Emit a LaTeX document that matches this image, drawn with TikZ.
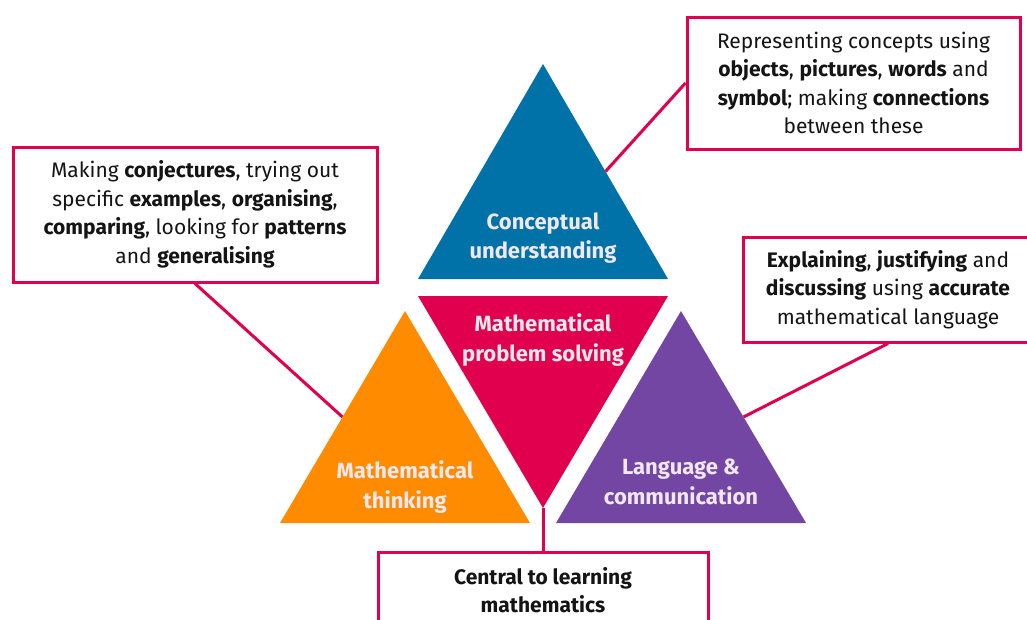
\documentclass[tikz,border=0pt]{standalone}
\usepackage{fontspec}
\setmainfont{Fira Sans}
\usetikzlibrary{calc}

\definecolor{cuBlue}{RGB}{0,114,168}
\definecolor{psRed}{RGB}{224,0,77}
\definecolor{mtOrange}{RGB}{255,140,0}
\definecolor{lcPurple}{RGB}{115,70,163}
\definecolor{edgePink}{RGB}{226,0,78}
\definecolor{inkDark}{RGB}{20,20,20}
\definecolor{labelLight}{RGB}{240,232,238}

\newcommand\notefont{\fontsize{21}{28.5}\selectfont}
\newcommand\trifont{\fontsize{22}{29.5}\selectfont\bfseries}

\begin{document}
\begin{tikzpicture}[x=1pt,y=-1pt,
  note/.style={draw=edgePink, line width=3pt, fill=white, align=center,
    inner sep=0pt, font=\notefont, text=inkDark},
  link/.style={draw=edgePink, line width=3pt},
  trilabel/.style={align=center, font=\trifont, text=labelLight, inner sep=0pt}
]
\useasboundingbox (0,0) rectangle (1027,619);

% triangle corners
\coordinate (bTop) at (543,64);   \coordinate (bL) at (418,279); \coordinate (bR) at (668,279);
\coordinate (rL) at (418,296);    \coordinate (rR) at (668,296); \coordinate (rTip) at (543,508);
\coordinate (oTop) at (405,311);  \coordinate (oL) at (280,523); \coordinate (oR) at (530,523);
\coordinate (pTop) at (681,311);  \coordinate (pL) at (556,523); \coordinate (pR) at (806,523);

% connector ends on the triangle sides
\coordinate (bSide) at ($(bTop)!0.5!(bR)$);
\coordinate (oSide) at ($(oTop)!0.5!(oL)$);
\coordinate (pSide) at ($(pTop)!0.5!(pR)$);

% text boxes
\node[note, minimum width=333pt, minimum height=132pt] (concept) at (853.5,83)
  {Representing concepts using\\
   \textbf{objects}, \textbf{pictures}, \textbf{words} and\\
   \textbf{symbol}; making \textbf{connections}\\
   between these};
\node[note, minimum width=364pt, minimum height=135pt] (thinking) at (195,214.5)
  {Making \textbf{conjectures}, trying out\\
   specific \textbf{examples}, \textbf{organising},\\
   \textbf{comparing}, looking for \textbf{patterns}\\
   and \textbf{generalising}};
\node[note, minimum width=290pt, minimum height=105pt] (language) at (888,289.5)
  {\textbf{Explaining}, \textbf{justifying} and\\
   \textbf{discussing} using \textbf{accurate}\\
   mathematical language};
\node[note, minimum width=330pt, minimum height=76pt] (central) at (543,590)
  {\textbf{Central to learning}\\ \textbf{mathematics}};

% connectors
\draw[link] (concept.west) -- (bSide);
\draw[link] (thinking.south) -- (oSide);
\draw[link] (language.south) -- (pSide);
\draw[link] (rTip) -- (central.north);

% triangles
\fill[cuBlue] (bTop) -- (bL) -- (bR) -- cycle;
\fill[psRed] (rL) -- (rR) -- (rTip) -- cycle;
\fill[mtOrange] (oTop) -- (oL) -- (oR) -- cycle;
\fill[lcPurple] (pTop) -- (pL) -- (pR) -- cycle;

% triangle labels
\node[trilabel] (cuText) at (543,238) {Conceptual\\ understanding};
\node[trilabel] (psText) at (543,340) {Mathematical\\ problem solving};
\node[trilabel] (mtText) at (405,487) {Mathematical\\ thinking};
\node[trilabel] (lcText) at (681,482) {Language \&\\ communication};
\end{tikzpicture}
\end{document}
